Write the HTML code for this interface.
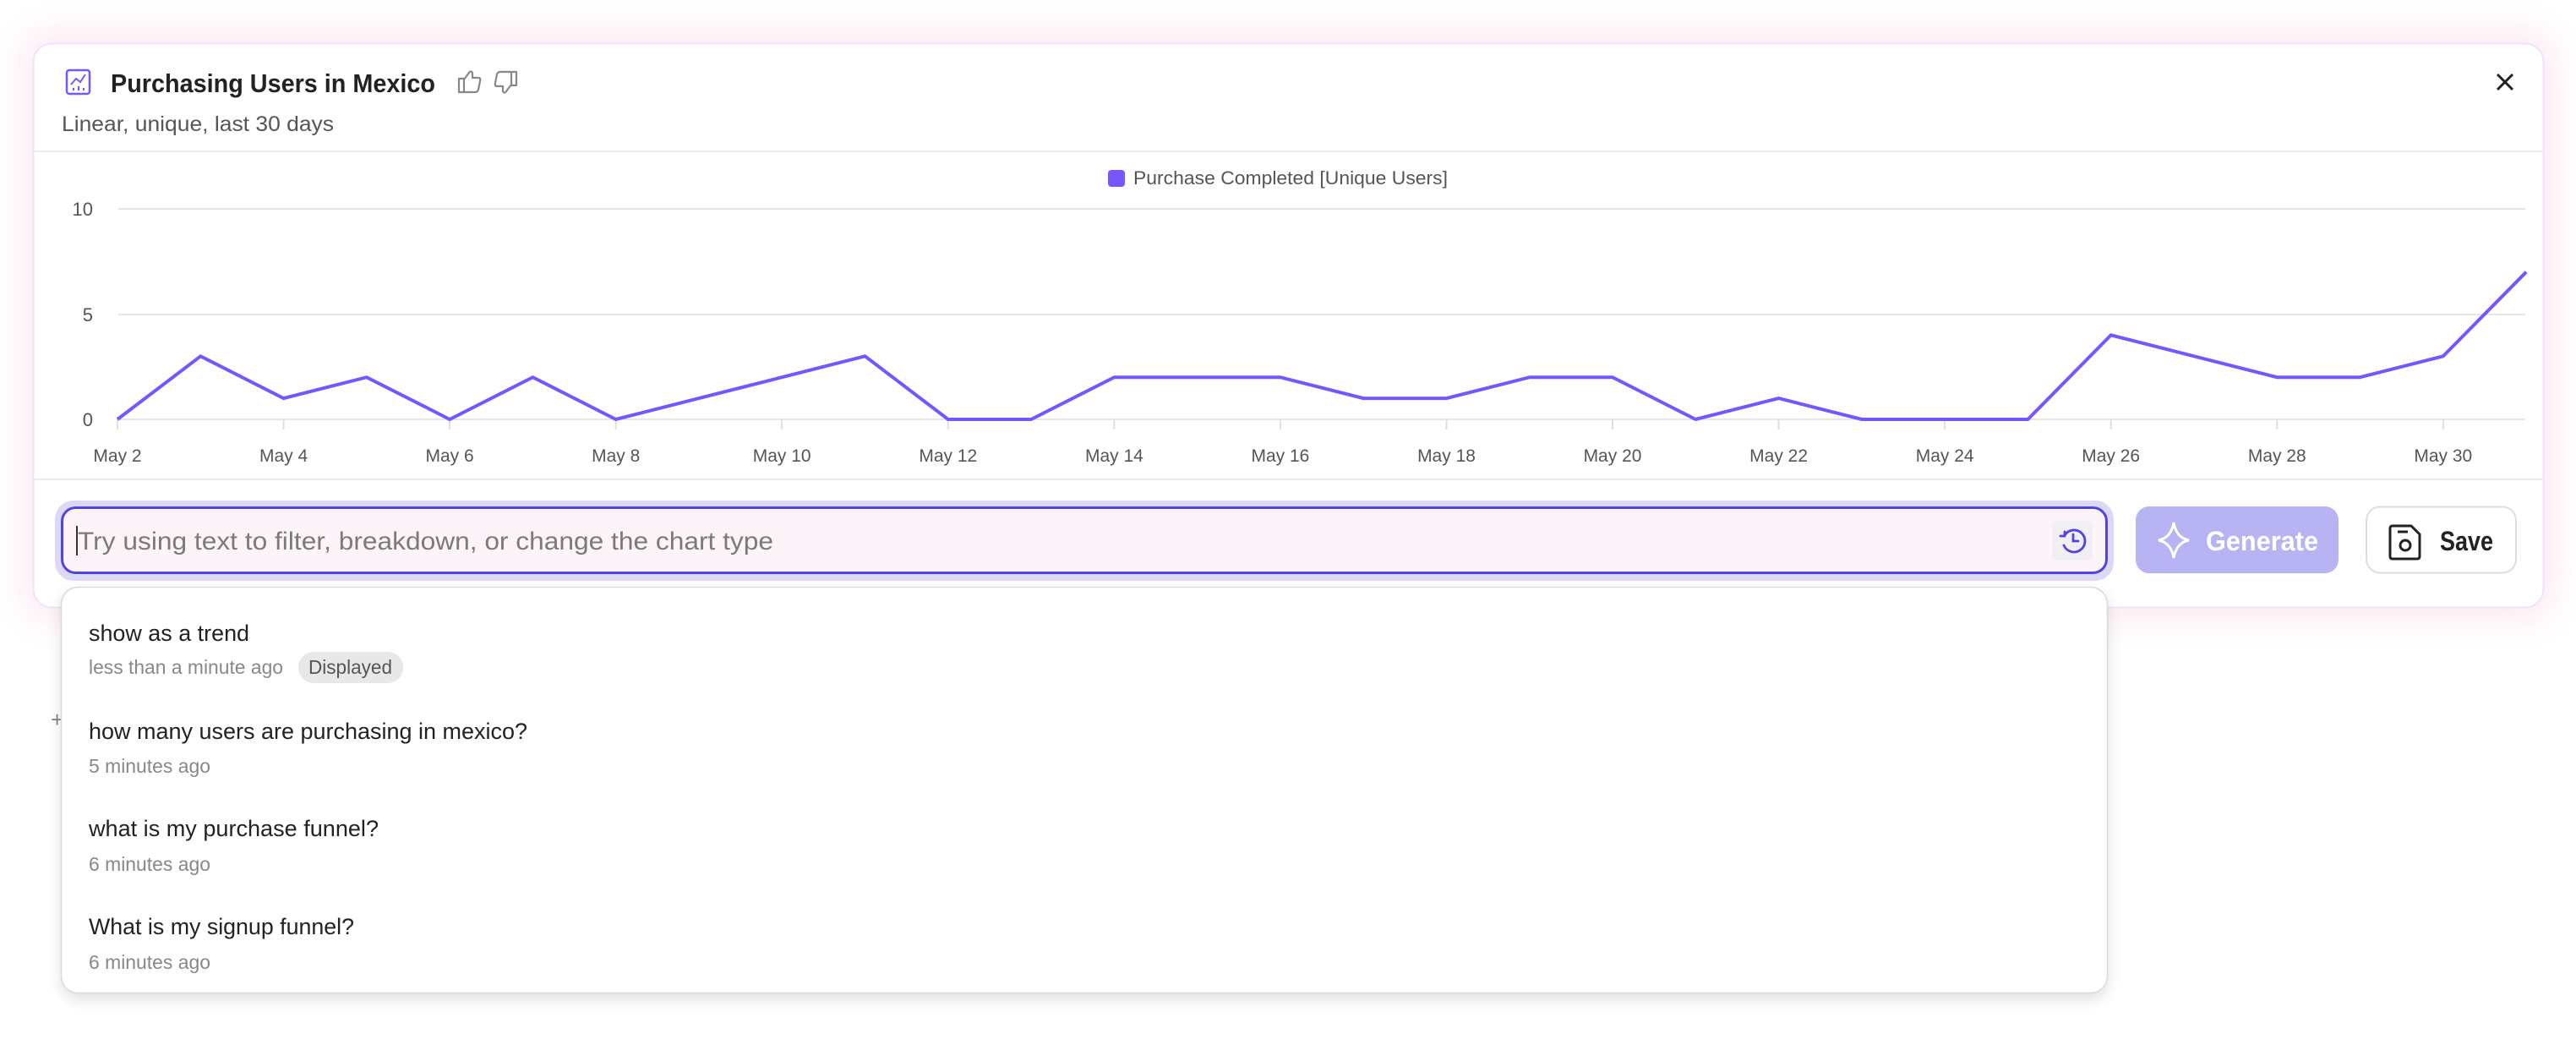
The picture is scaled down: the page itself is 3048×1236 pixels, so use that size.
<!DOCTYPE html>
<html><head><meta charset="utf-8"><style>
html,body{margin:0;padding:0;background:#fff;width:3048px;height:1236px;overflow:hidden}
text{font-family:"Liberation Sans",sans-serif}
</style></head><body>
<svg width="3048" height="1236" viewBox="0 0 3048 1236" xmlns="http://www.w3.org/2000/svg">
<defs>
<filter id="glow" x="-10%" y="-20%" width="120%" height="140%"><feGaussianBlur stdDeviation="22"/></filter>
<filter id="sh" x="-5%" y="-10%" width="110%" height="130%"><feGaussianBlur stdDeviation="8"/></filter>
</defs>
<rect x="0" y="0" width="3048" height="1236" fill="#fff"/>
<rect x="30" y="40" width="2990" height="690" rx="30" fill="#fde6f1" filter="url(#glow)"/>
<rect x="39.5" y="51.5" width="2970" height="667" rx="22" fill="#fff" stroke="#ece6fa" stroke-width="2"/>
<!-- header -->
<rect x="79" y="83" width="27" height="28" rx="3" fill="none" stroke="#7856ff" stroke-width="2.5"/>
<polyline points="84,100 90,93 95,97 101,88" fill="none" stroke="#7856ff" stroke-width="2"/>
<line x1="87" y1="104" x2="87" y2="107" stroke="#7856ff" stroke-width="2"/><line x1="93" y1="102" x2="93" y2="107" stroke="#7856ff" stroke-width="2"/><line x1="99" y1="104" x2="99" y2="107" stroke="#7856ff" stroke-width="2"/>
<text x="131" y="109" font-size="31" font-weight="bold" fill="#222" textLength="384" lengthAdjust="spacingAndGlyphs">Purchasing Users in Mexico</text>
<g fill="none" stroke="#888" stroke-width="2.2" stroke-linejoin="round">
<path d="M543,93 h6 v16 h-6 z M549,94 l6,-8 q2,-3 4,0 v6 h7 q3,0 2,4 l-2,10 q-1,3 -4,3 h-13"/>
<path d="M611,101 h-6 v-16 h6 z M605,100 l-6,8 q-2,3 -4,0 v-6 h-7 q-3,0 -2,-4 l2,-10 q1,-3 4,-3 h13"/>
</g>
<text x="73" y="155" font-size="25" fill="#555" textLength="322" lengthAdjust="spacingAndGlyphs">Linear, unique, last 30 days</text>
<path d="M2955,88 L2973,106 M2973,88 L2955,106" stroke="#222" stroke-width="3"/>
<line x1="40" y1="179" x2="3009" y2="179" stroke="#ebebeb" stroke-width="2"/>
<!-- legend -->
<rect x="1311" y="201" width="20" height="20" rx="4" fill="#7856ff"/>
<text x="1341" y="218" font-size="22" fill="#555" textLength="372" lengthAdjust="spacingAndGlyphs">Purchase Completed [Unique Users]</text>
<!-- grid -->
<g stroke="#e6e6e6" stroke-width="2">
<line x1="140" y1="247" x2="2988" y2="247"/><line x1="140" y1="372" x2="2988" y2="372"/><line x1="140" y1="496" x2="2988" y2="496"/>
</g>
<g font-size="22" fill="#555" text-anchor="end">
<text x="110" y="255">10</text><text x="110" y="380">5</text><text x="110" y="504">0</text>
</g>
<g stroke="#e0e0e0" stroke-width="2">
<line x1="139" y1="496" x2="139" y2="508"/><line x1="335.6" y1="496" x2="335.6" y2="508"/><line x1="532.1" y1="496" x2="532.1" y2="508"/><line x1="728.7" y1="496" x2="728.7" y2="508"/><line x1="925.2" y1="496" x2="925.2" y2="508"/><line x1="1121.8" y1="496" x2="1121.8" y2="508"/><line x1="1318.4" y1="496" x2="1318.4" y2="508"/><line x1="1514.9" y1="496" x2="1514.9" y2="508"/><line x1="1711.5" y1="496" x2="1711.5" y2="508"/><line x1="1908" y1="496" x2="1908" y2="508"/><line x1="2104.6" y1="496" x2="2104.6" y2="508"/><line x1="2301.2" y1="496" x2="2301.2" y2="508"/><line x1="2497.7" y1="496" x2="2497.7" y2="508"/><line x1="2694.3" y1="496" x2="2694.3" y2="508"/><line x1="2890.8" y1="496" x2="2890.8" y2="508"/>
</g>
<g font-size="21" fill="#555" text-anchor="middle">
<text x="139" y="546">May 2</text><text x="335.6" y="546">May 4</text><text x="532.1" y="546">May 6</text><text x="728.7" y="546">May 8</text><text x="925.2" y="546">May 10</text><text x="1121.8" y="546">May 12</text><text x="1318.4" y="546">May 14</text><text x="1514.9" y="546">May 16</text><text x="1711.5" y="546">May 18</text><text x="1908" y="546">May 20</text><text x="2104.6" y="546">May 22</text><text x="2301.2" y="546">May 24</text><text x="2497.7" y="546">May 26</text><text x="2694.3" y="546">May 28</text><text x="2890.8" y="546">May 30</text>
</g>
<polyline fill="none" stroke="#7856ff" stroke-width="4" stroke-linejoin="miter" points="139,496 237.3,421.3 335.6,471.1 433.8,446.2 532.1,496 630.4,446.2 728.7,496 827,471.1 925.2,446.2 1023.5,421.3 1121.8,496 1220.1,496 1318.4,446.2 1416.6,446.2 1514.9,446.2 1613.2,471.1 1711.5,471.1 1809.8,446.2 1908,446.2 2006.3,496 2104.6,471.1 2202.9,496 2301.2,496 2399.4,496 2497.7,396.4 2596,421.3 2694.3,446.2 2792.6,446.2 2890.8,421.3 2989.1,321.7"/>
<line x1="40" y1="567" x2="3009" y2="567" stroke="#ebebeb" stroke-width="2"/>
<!-- input -->
<rect x="65" y="592" width="2436" height="95" rx="22" fill="#dcd8f8"/>
<rect x="73.5" y="600.5" width="2419" height="77" rx="16" fill="#fdf4fa" stroke="#4f44e0" stroke-width="3"/>
<line x1="91" y1="622" x2="91" y2="657" stroke="#333" stroke-width="2"/>
<text x="92" y="650" font-size="30" fill="#7a7a7a" textLength="823" lengthAdjust="spacingAndGlyphs">Try using text to filter, breakdown, or change the chart type</text>
<rect x="2428" y="616" width="48" height="47" rx="6" fill="#f1eef6"/>
<g fill="none" stroke="#4f44e0" stroke-width="2.8" stroke-linecap="round">
<path d="M2443,633 A13,13 0 1 1 2442,645"/><path d="M2438,634 l5,0 l0,-5"/><path d="M2453,632 v8 h6"/>
</g>
<!-- generate -->
<rect x="2527" y="599" width="240" height="79" rx="16" fill="#b8b4f4"/>
<path d="M2572,618 Q2575,636 2590,639 Q2575,642 2572,660 Q2569,642 2554,639 Q2569,636 2572,618 Z" fill="none" stroke="#fff" stroke-width="3"/>
<text x="2610" y="651" font-size="32" font-weight="bold" fill="#fff" textLength="133" lengthAdjust="spacingAndGlyphs">Generate</text>
<!-- save -->
<rect x="2800" y="599.5" width="177" height="78" rx="16" fill="#fff" stroke="#dedede" stroke-width="2"/>
<path d="M2831,622 h22 l10,10 v26 q0,3 -3,3 h-29 q-3,0 -3,-3 v-33 q0,-3 3,-3 z" fill="none" stroke="#222" stroke-width="3"/>
<line x1="2837" y1="629" x2="2849" y2="629" stroke="#222" stroke-width="3"/>
<circle cx="2846" cy="645" r="6" fill="none" stroke="#222" stroke-width="3"/>
<text x="2887" y="651" font-size="32" font-weight="bold" fill="#222" textLength="63" lengthAdjust="spacingAndGlyphs">Save</text>
<!-- dropdown -->
<text x="60" y="860" font-size="26" fill="#888">+</text>
<rect x="72" y="700" width="2422" height="482" rx="20" fill="#000" opacity="0.12" filter="url(#sh)"/>
<rect x="72.5" y="694.5" width="2421" height="480" rx="20" fill="#fff" stroke="#dadada" stroke-width="1.5"/>
<text x="105" y="758" font-size="27" fill="#222" textLength="190" lengthAdjust="spacingAndGlyphs">show as a trend</text>
<text x="105" y="797" font-size="23" fill="#888" textLength="230" lengthAdjust="spacingAndGlyphs">less than a minute ago</text>
<rect x="353" y="771" width="124" height="37" rx="18" fill="#e8e8e8"/>
<text x="365" y="797" font-size="23" fill="#555" textLength="99" lengthAdjust="spacingAndGlyphs">Displayed</text>
<text x="105" y="874" font-size="27" fill="#222" textLength="519" lengthAdjust="spacingAndGlyphs">how many users are purchasing in mexico?</text>
<text x="105" y="914" font-size="23" fill="#888" textLength="144" lengthAdjust="spacingAndGlyphs">5 minutes ago</text>
<text x="105" y="989" font-size="27" fill="#222" textLength="343" lengthAdjust="spacingAndGlyphs">what is my purchase funnel?</text>
<text x="105" y="1030" font-size="23" fill="#888" textLength="144" lengthAdjust="spacingAndGlyphs">6 minutes ago</text>
<text x="105" y="1105" font-size="27" fill="#222" textLength="314" lengthAdjust="spacingAndGlyphs">What is my signup funnel?</text>
<text x="105" y="1146" font-size="23" fill="#888" textLength="144" lengthAdjust="spacingAndGlyphs">6 minutes ago</text>
</svg>
</body></html>
